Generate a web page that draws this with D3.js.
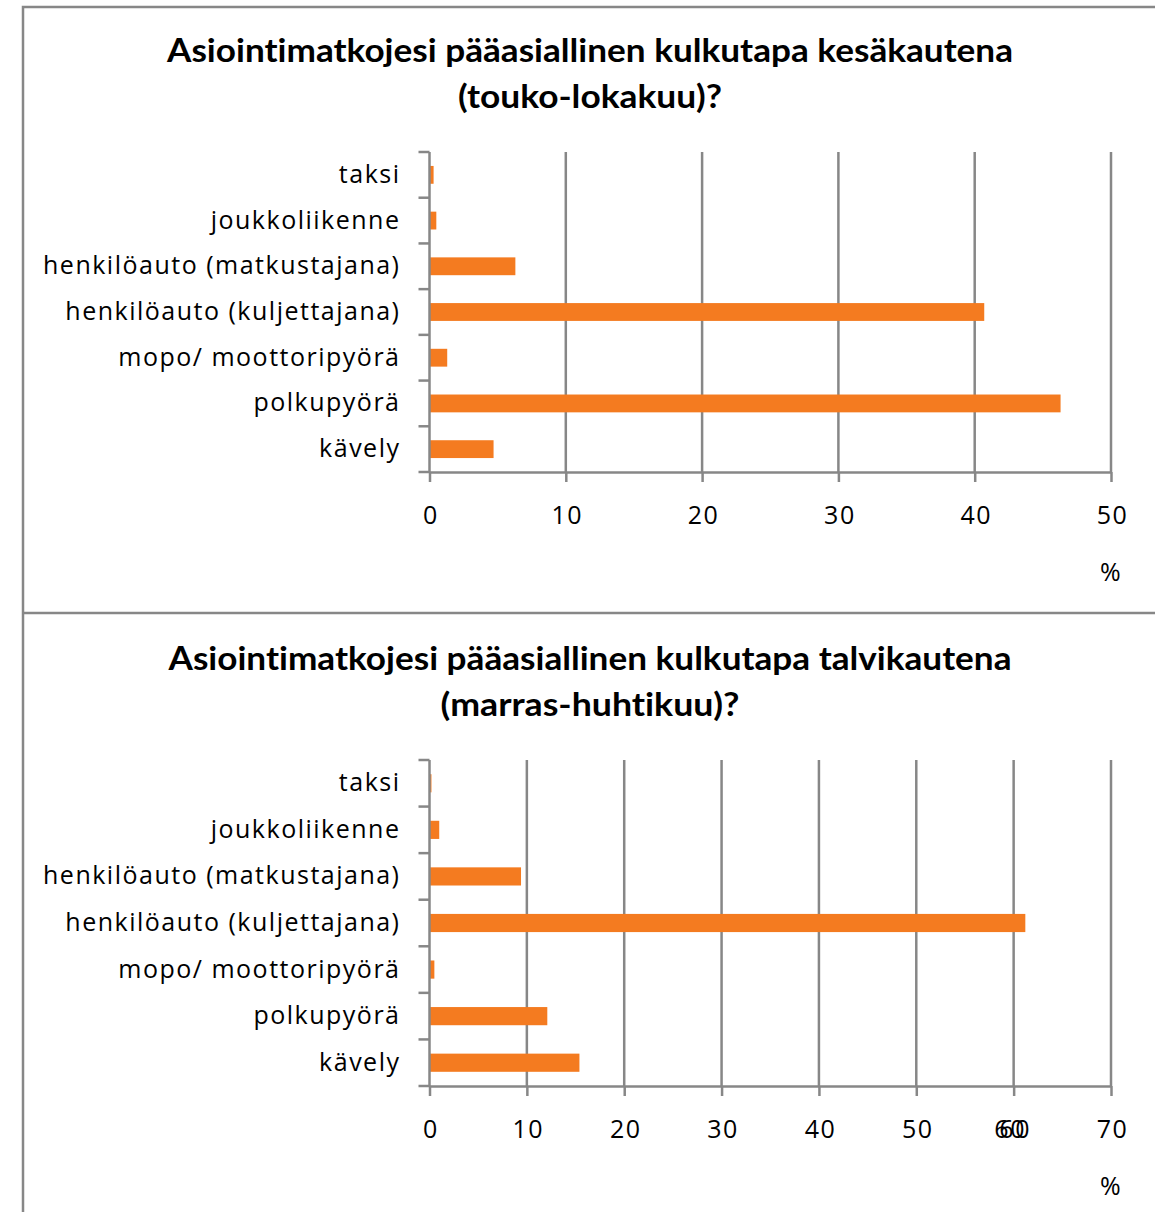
<!DOCTYPE html>
<html>
<head>
<meta charset="utf-8">
<script src="https://cdn.jsdelivr.net/npm/d3@7"></script>
<style>
  body { margin: 0; background: #fff; }
  svg { display: block; }
  .lbl text, text.lbl { font-family: "Open Sans", sans-serif; font-size: 25px; letter-spacing: 1.5px; fill: #000; }
  .title { font-family: Lato, sans-serif; font-weight: bold; font-size: 32px; fill: #000; font-variant-ligatures: none; }
</style>
</head>
<body>
<script>
// luokat ylhaalta alas
var categories = ["taksi", "joukkoliikenne", "henkilöauto (matkustajana)", "henkilöauto (kuljettajana)",
    "mopo/ moottoripyörä", "polkupyörä", "kävely"];

// prosentit, kesakausi
var summerValues = [0.3, 0.5, 6.3, 40.7, 1.3, 46.3, 4.7];
// prosentit, talvikausi
var winterValues = [0.2, 1.0, 9.4, 61.2, 0.5, 12.1, 15.4];

var summerTicks = [0, 10, 20, 30, 40, 50];
var winterTicks = [0, 10, 20, 30, 40, 50, 60, 70];

var summerTitle = ["Asiointimatkojesi pääasiallinen kulkutapa kesäkautena", "(touko-lokakuu)?"];
var winterTitle = ["Asiointimatkojesi pääasiallinen kulkutapa talvikautena", "(marras-huhtikuu)?"];

var width = 1155, height = 1212;
var grey = "#878787", orange = "#f47b20";

var svg = d3.select("body").append("svg")
    .attr("width", width)
    .attr("height", height);

// kehykset
svg.append("path")
    .attr("d", "M23,1212 V7 H1160 M23,613 H1160")
    .attr("fill", "none")
    .attr("stroke", grey)
    .attr("stroke-width", 2.5);

function drawChart(opts) {
    var x = d3.scaleLinear()
        .domain([0, d3.max(opts.ticks)])
        .range([429.5, 1111]);

    var y = d3.scaleBand()
        .domain(categories)
        .range([opts.top, opts.bottom])
        .paddingInner(0.61)
        .paddingOuter(0.305);

    var g = svg.append("g");

    // otsikko, leveys sovitetaan kuvaan
    g.selectAll(".title")
        .data(opts.title)
        .enter().append("text")
        .attr("class", "title")
        .attr("x", 590)
        .attr("y", function (d, i) { return opts.titleY + i * 46; })
        .attr("text-anchor", "middle")
        .attr("textLength", function (d, i) { return opts.titleWidths[i]; })
        .attr("lengthAdjust", "spacingAndGlyphs")
        .text(function (d) { return d; });

    // pystysuorat ruudukon viivat
    g.selectAll(".grid")
        .data(opts.ticks.slice(1))
        .enter().append("line")
        .attr("x1", function (d) { return x(d); })
        .attr("x2", function (d) { return x(d); })
        .attr("y1", opts.top)
        .attr("y2", opts.bottom)
        .attr("stroke", grey)
        .attr("stroke-width", 2.5);

    // palkit
    g.selectAll(".bar")
        .data(opts.values)
        .enter().append("rect")
        .attr("x", x(0))
        .attr("y", function (d, i) { return y(categories[i]); })
        .attr("width", function (d) { return x(d) - x(0); })
        .attr("height", y.bandwidth())
        .attr("fill", orange);

    // x-akseli
    var xAxis = g.append("g")
        .attr("class", "lbl")
        .attr("transform", "translate(0," + opts.bottom + ")")
        .call(d3.axisBottom(x).tickValues(opts.ticks).tickSize(10).tickPadding(24).tickSizeOuter(0));
    xAxis.select(".domain").attr("stroke", grey).attr("stroke-width", 2.5);
    xAxis.selectAll(".tick line").attr("stroke", grey).attr("stroke-width", 2.5);
    xAxis.selectAll(".tick text").attr("dy", "0.71em").attr("dx", 1);

    if (opts.doubled !== undefined) {
        // Excelin paallekkainen nimio
        xAxis.selectAll(".tick")
            .filter(function (d) { return d === opts.doubled; })
            .append("text")
            .attr("fill", "#000")
            .attr("text-anchor", "middle")
            .attr("x", -4)
            .attr("y", 34)
            .attr("dy", "0.71em")
            .text(opts.doubled);
    }

    // y-akseli
    var yAxis = g.append("g")
        .attr("class", "lbl")
        .attr("transform", "translate(" + x(0) + ",0)")
        .call(d3.axisLeft(y).tickSize(0).tickPadding(29));
    yAxis.select(".domain").remove();

    var step = y.step();
    var bounds = d3.range(categories.length + 1).map(function (i) { return opts.top + i * step; });
    g.selectAll(".ytick")
        .data(bounds)
        .enter().append("line")
        .attr("x1", x(0) - 11)
        .attr("x2", x(0))
        .attr("y1", function (d) { return d; })
        .attr("y2", function (d) { return d; })
        .attr("stroke", grey)
        .attr("stroke-width", 2.5);
    g.append("line")
        .attr("x1", x(0)).attr("x2", x(0))
        .attr("y1", opts.top).attr("y2", opts.bottom)
        .attr("stroke", grey)
        .attr("stroke-width", 2.5);

    // yksikko
    g.append("text")
        .attr("class", "lbl")
        .attr("x", x(d3.max(opts.ticks)))
        .attr("y", opts.bottom + 109)
        .attr("text-anchor", "middle")
        .text("%");
}

drawChart({ title: summerTitle, titleWidths: [846, 264], titleY: 62, top: 152, bottom: 472, values: summerValues, ticks: summerTicks });
drawChart({ title: winterTitle, titleWidths: [843, 299], titleY: 670, top: 760, bottom: 1086, values: winterValues, ticks: winterTicks, doubled: 60 });
</script>
</body>
</html>
